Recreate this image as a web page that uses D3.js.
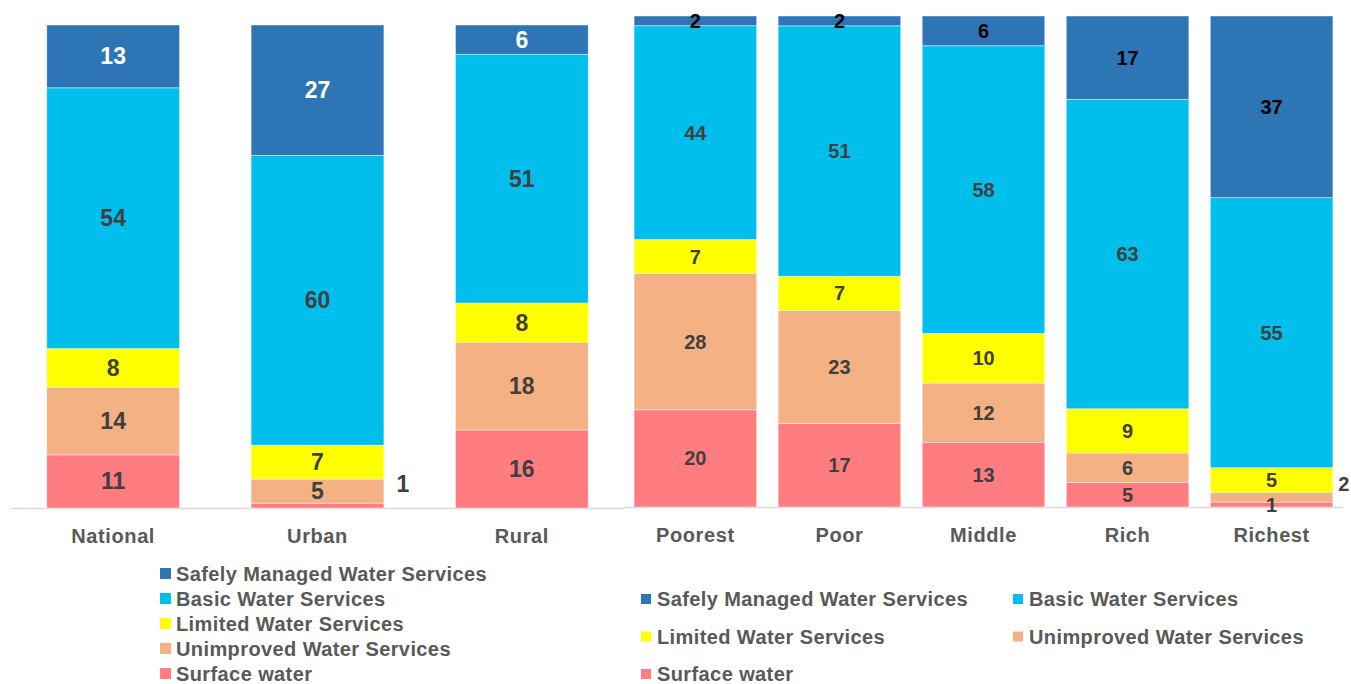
<!DOCTYPE html>
<html><head><meta charset="utf-8">
<script src="https://cdn.jsdelivr.net/npm/d3@7"></script>
<style>body{margin:0;background:#fff}svg{display:block}text{font-family:"Liberation Sans",Arial,sans-serif;font-weight:bold}</style>
</head><body><svg id="c" width="1351" height="684"></svg>
<script>
const seriesNames = ["Safely Managed Water Services","Basic Water Services","Limited Water Services","Unimproved Water Services","Surface water"];
const categoriesLeft = ["National","Urban","Rural"];
const categoriesRight = ["Poorest","Poor","Middle","Rich","Richest"];
const safely     = [13,27,6, 2,2,6,17,37];
const basic      = [54,60,51, 44,51,58,63,55];
const limited    = [8,7,8, 7,7,10,9,5];
const unimproved = [14,5,18, 28,23,12,6,2];
const surface    = [11,1,16, 20,17,13,5,1];

const colors = ["#2E75B6","#00BFEC","#FFFF00","#F4B183","#FF7C80"];
const allCats = categoriesLeft.concat(categoriesRight);
const rows = allCats.map((c,i)=>({cat:c, s0:safely[i], s1:basic[i], s2:limited[i], s3:unimproved[i], s4:surface[i]}));
// stack bottom-up: surface, unimproved, limited, basic, safely
const keys = ["s4","s3","s2","s1","s0"];
const keyIdx = {s0:0,s1:1,s2:2,s3:3,s4:4};

const svg = d3.select("#c");

function drawChart(cats, cfg){
  const data = rows.filter(r=>cats.includes(r.cat));
  const stacked = d3.stack().keys(keys).offset(d3.stackOffsetExpand)(data);
  const x = d3.scaleBand().domain(cats).range(cfg.xr).paddingInner(cfg.pi).paddingOuter(cfg.po);
  const y = d3.scaleLinear().domain([0,1]).range(cfg.yr);
  const g = svg.append("g");
  g.append("line").attr("x1",cfg.xr[0]).attr("x2",cfg.xr[1]).attr("y1",cfg.yr[0]+0.5).attr("y2",cfg.yr[0]+0.5)
    .attr("stroke","#d9d9d9").attr("stroke-width",1.5);
  stacked.forEach(layer=>{
    const si = keyIdx[layer.key];
    g.selectAll(null).data(layer).join("rect")
      .attr("x",d=>x(d.data.cat)).attr("width",x.bandwidth())
      .attr("y",d=>y(d[1])).attr("height",d=>y(d[0])-y(d[1]))
      .attr("fill",colors[si]).attr("stroke","rgba(255,255,255,0.55)").attr("stroke-width",0.8);
  });
  stacked.forEach(layer=>{
    const si = keyIdx[layer.key];
    g.selectAll(null).data(layer).join("text")
      .each(function(d){
        const v = d.data[layer.key];
        const cx = x(d.data.cat)+x.bandwidth()/2;
        const cy = (y(d[0])+y(d[1]))/2;
        const out = cfg.outside.find(o=>o.cat===d.data.cat && o.key===layer.key);
        const t = d3.select(this).text(v)
          .attr("text-anchor","middle").attr("dominant-baseline","central")
          .attr("font-size",cfg.fs)
          .attr("fill", si===0 ? cfg.topColor : "#404040");
        if(out){
          t.attr("x", x(d.data.cat)+x.bandwidth()+out.dx).attr("y", cy+out.dy);
        } else {
          t.attr("x",cx).attr("y",cy);
        }
      });
  });
  g.selectAll(null).data(cats).join("text")
    .attr("x",d=>x(d)+x.bandwidth()/2).attr("y",cfg.yr[0]+35)
    .attr("text-anchor","middle").attr("font-size",20).attr("letter-spacing",0.6).attr("fill","#595959").text(d=>d);
}

drawChart(categoriesLeft,{xr:[11,624],pi:0.35,po:0.175,yr:[508,25],fs:23,topColor:"#ffffff",
  outside:[{cat:"Urban",key:"s4",dx:19,dy:-22}]});
drawChart(categoriesRight,{xr:[624,1343],pi:0.149,po:0.07,yr:[507,16],fs:20,topColor:"#000000",
  outside:[{cat:"Richest",key:"s3",dx:11,dy:-13}]});

// Legend 1 (vertical)
const leg1 = svg.append("g");
seriesNames.forEach((n,i)=>{
  const yy = 574 + i*25;
  leg1.append("rect").attr("x",160).attr("y",yy-6).attr("width",11).attr("height",11).attr("fill",colors[i]);
  leg1.append("text").attr("x",176).attr("y",yy).attr("dominant-baseline","central").attr("font-size",20).attr("letter-spacing",0.4).attr("fill","#595959").text(n);
});
// Legend 2 (two columns)
const leg2 = svg.append("g");
const layout2 = [[0,0],[1,0],[0,1],[1,1],[0,2]];
seriesNames.forEach((n,i)=>{
  const [col,row] = layout2[i];
  const xx = col===0 ? 641 : 1013;
  const yy = 599 + row*37.5;
  leg2.append("rect").attr("x",xx).attr("y",yy-5).attr("width",10).attr("height",10).attr("fill",colors[i]);
  leg2.append("text").attr("x",xx+16).attr("y",yy).attr("dominant-baseline","central").attr("font-size",20).attr("letter-spacing",0.4).attr("fill","#595959").text(n);
});
</script></body></html>
